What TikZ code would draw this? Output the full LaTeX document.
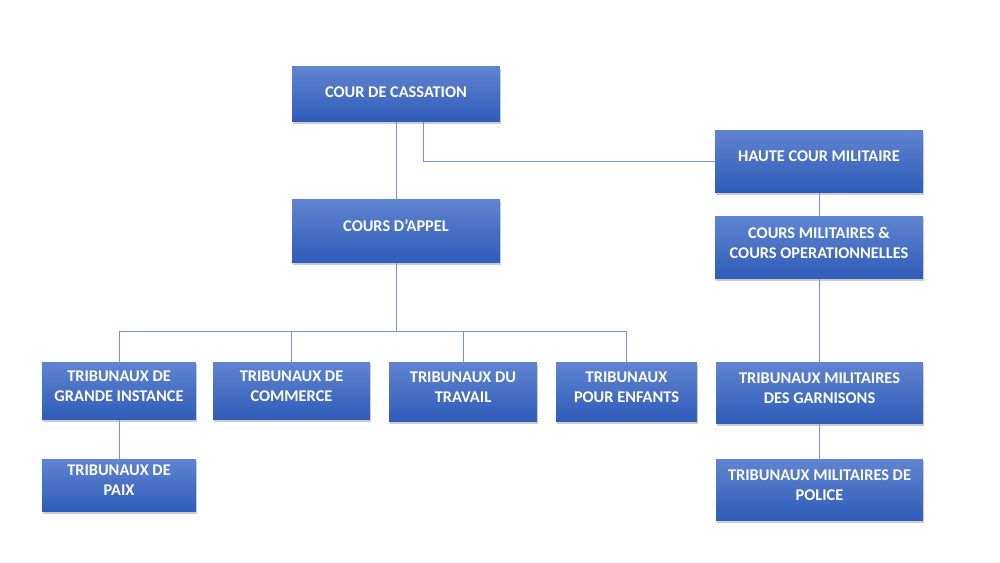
\documentclass[tikz,border=0pt]{standalone}
\usepackage{fontspec}
\setmainfont{Carlito}
\usepackage{tikz}
\usetikzlibrary{shadows,positioning}
\definecolor{boxtop}{RGB}{96,132,208}
\definecolor{boxbottom}{RGB}{46,92,184}
\definecolor{linkblue}{RGB}{112,148,214}

\begin{document}
\begin{tikzpicture}[x=0.02cm, y=-0.02cm,
    courtbox/.style={rectangle, top color=boxtop, bottom color=boxbottom, draw=none,
        text=white, font=\fontsize{9.3}{11.5}\selectfont\bfseries, align=center,
        inner sep=0pt, text depth=2mm,
        drop shadow={shadow xshift=0.7pt, shadow yshift=-0.9pt, opacity=0.4}},
    link/.style={draw=linkblue, line width=0.5pt},
]
    \useasboundingbox (0,0) rectangle (1000,563);

    \node[courtbox, minimum width=4.16cm, minimum height=1.1cm, text depth=1mm] (cassation) at (396,94.5) {COUR DE CASSATION};
    \node[courtbox, minimum width=4.16cm, minimum height=1.28cm] (appel) at (396,231) {COURS D'APPEL};
    \node[courtbox, minimum width=4.16cm, minimum height=1.26cm] (hcm) at (819,161.5) {HAUTE COUR MILITAIRE};
    \node[courtbox, minimum width=4.16cm, minimum height=1.26cm] (militaires) at (819,247.5) {COURS MILITAIRES \&\\COURS OPERATIONNELLES};

    \node[courtbox, minimum width=3.08cm, minimum height=1.16cm] (tgi) at (119,391) {TRIBUNAUX DE\\GRANDE INSTANCE};
    \node[courtbox, minimum width=3.14cm, minimum height=1.16cm] (commerce) at (291.5,391) {TRIBUNAUX DE\\COMMERCE};
    \node[courtbox, minimum width=2.96cm, minimum height=1.2cm] (travail) at (463,392) {TRIBUNAUX DU\\TRAVAIL};
    \node[courtbox, minimum width=2.82cm, minimum height=1.2cm] (enfants) at (626.5,392) {TRIBUNAUX\\POUR ENFANTS};
    \node[courtbox, minimum width=4.14cm, minimum height=1.24cm] (garnisons) at (819.5,393) {TRIBUNAUX MILITAIRES\\DES GARNISONS};

    \node[courtbox, minimum width=3.08cm, minimum height=1.06cm] (paix) at (119,485.5) {TRIBUNAUX DE\\PAIX};
    \node[courtbox, minimum width=4.14cm, minimum height=1.24cm] (police) at (819.5,490) {TRIBUNAUX MILITAIRES DE\\POLICE};

    \coordinate (bus) at (0,331);

    \draw[link] (cassation.south) -- (appel.north);
    \draw[link] ([xshift=0.54cm]cassation.south) |- (hcm.west);
    \draw[link] (hcm.south) -- (militaires.north);
    \draw[link] (militaires.south) -- (militaires.south |- garnisons.north);
    \draw[link] (garnisons.south) -- (police.north);

    \draw[link] (appel.south) -- (appel.south |- bus);
    \draw[link] (tgi.north |- bus) -- (enfants.north |- bus);
    \foreach \t in {tgi,commerce,travail,enfants} {
        \draw[link] (\t.north |- bus) -- (\t.north);
    }
    \draw[link] (tgi.south) -- (paix.north);
\end{tikzpicture}
\end{document}
